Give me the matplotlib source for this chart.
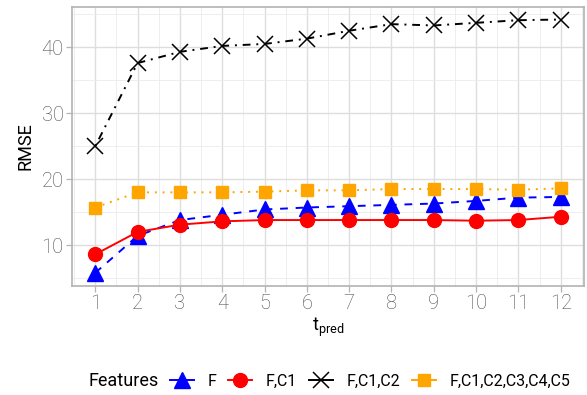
import matplotlib
matplotlib.use('Agg')
from matplotlib import pyplot as plt
from matplotlib.lines import Line2D
from matplotlib.ticker import MultipleLocator

plt.rcParams['font.family'] = ['Roboto', 'DejaVu Sans']
plt.rcParams['mathtext.fontset'] = 'custom'
plt.rcParams['mathtext.rm'] = 'Roboto'

# 数据
t_pred = [1, 2, 3, 4, 5, 6, 7, 8, 9, 10, 11, 12]
rmse_f = [5.8, 11.4, 13.8, 14.6, 15.4, 15.7, 15.9, 16.1, 16.3, 16.7, 17.2, 17.3]
rmse_fc1 = [8.6, 12.0, 13.1, 13.6, 13.8, 13.8, 13.8, 13.8, 13.8, 13.7, 13.8, 14.3]
rmse_fc1c2 = [25.0, 37.6, 39.3, 40.2, 40.5, 41.3, 42.5, 43.5, 43.3, 43.7, 44.1, 44.2]
rmse_all = [15.7, 18.0, 18.0, 18.0, 18.1, 18.3, 18.3, 18.5, 18.5, 18.5, 18.4, 18.6]
labels = ['F', 'F,C1', 'F,C1,C2', 'F,C1,C2,C3,C4,C5']

fig = plt.figure(figsize=(5.87, 3.95), dpi=100)
ax = fig.add_axes([72 / 587, 1 - 286 / 395, 512 / 587, 279 / 395])

lw = 1.4
ax.plot(t_pred, rmse_f, color='blue', linestyle=(0, (4, 4)), lw=lw,
        marker='^', markersize=11, zorder=3)
ax.plot(t_pred, rmse_fc1, color='red', linestyle='-', lw=lw,
        marker='o', markersize=10, zorder=3)
ax.plot(t_pred, rmse_fc1c2, color='black', linestyle=(0, (1, 3, 4, 3)), lw=lw,
        marker='x', markersize=11, markeredgewidth=1.1, zorder=3)
ax.plot(t_pred, rmse_all, color='orange', linestyle=(0, (1, 3)), lw=lw,
        marker='s', markersize=9, zorder=3)

ax.set_xlim(0.45, 12.55)
ax.set_ylim(3.8, 46.1)
ax.set_xticks(t_pred)
ax.xaxis.set_minor_locator(MultipleLocator(0.5))
ax.yaxis.set_major_locator(MultipleLocator(10))
ax.yaxis.set_minor_locator(MultipleLocator(5))
ax.grid(which='major', color='#DEDEDE', lw=1.0)
ax.grid(which='minor', color='#EBEBEB', lw=0.6)
ax.set_axisbelow(True)
for s in ax.spines.values():
    s.set_color('#B3B3B3')
    s.set_linewidth(1.2)
ax.tick_params(which='major', colors='#B3B3B3', labelcolor='#4D4D4D',
               labelsize=14.5, length=4, width=0.9, pad=2)
ax.tick_params(which='minor', length=0)
for lab in ax.get_xticklabels() + ax.get_yticklabels():
    lab.set_fontweight('light')

ax.set_xlabel(r'$\mathrm{t}_{\mathrm{pred}}$', fontsize=13, labelpad=2)
ax.set_ylabel('RMSE', fontsize=13, labelpad=5)

# 图例
handles = [
    Line2D([], [], color='blue', lw=lw, marker='^', markersize=11),
    Line2D([], [], color='red', lw=lw, marker='o', markersize=10),
    Line2D([], [], color='black', lw=lw, marker='x', markersize=11, markeredgewidth=1.1),
    Line2D([], [], color='orange', lw=lw, marker='s', markersize=9),
]
fig.text(88 / 587, 1 - 381 / 395, 'Features', fontsize=13, va='center', ha='left')
fig.legend(handles, labels, loc='center left', bbox_to_anchor=(170 / 587, 1 - 381 / 395),
           ncol=4, frameon=False, fontsize=11.5, handlelength=1.5, handletextpad=0.85,
           columnspacing=0.75, borderpad=0, borderaxespad=0)

fig.savefig('out.png', dpi=100)
plt.close(fig)
